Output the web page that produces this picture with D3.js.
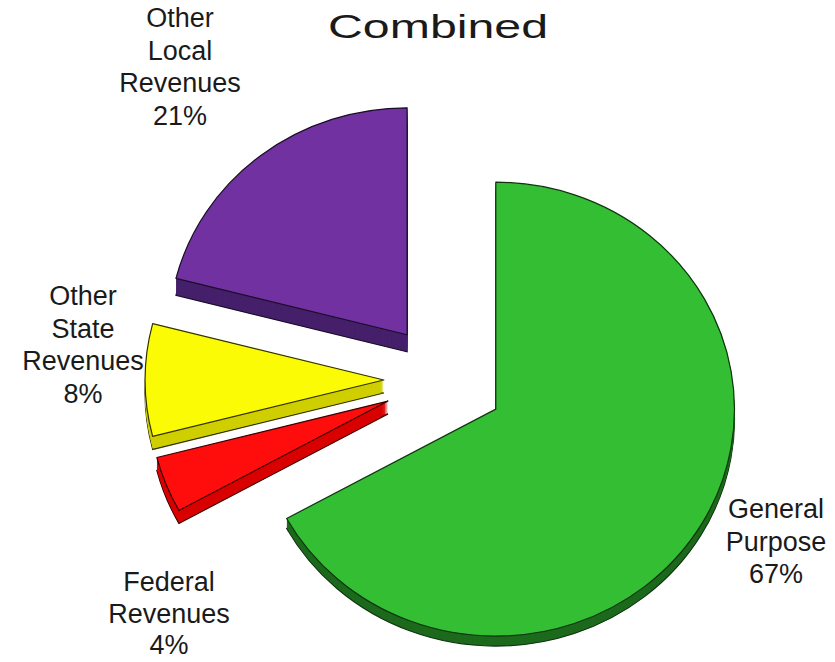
<!DOCTYPE html>
<html>
<head>
<meta charset="utf-8">
<script src="https://cdn.jsdelivr.net/npm/d3@7"></script>
<style>
    body { margin: 0; background: #fff; }
    text { font-family: "Liberation Sans", Arial, sans-serif; fill: #1a1a1a; }
</style>
</head>
<body>
<svg id="chart"></svg>
<script>
// data
const categories = ["General Purpose", "Federal Revenues", "Other State Revenues", "Other Local Revenues"]
const shares = [67, 4, 8, 21]
const labelLines = [
    ["General", "Purpose", "67%"],
    ["Federal", "Revenues", "4%"],
    ["Other", "State", "Revenues", "8%"],
    ["Other", "Local", "Revenues", "21%"]
]
const title = "Combined"

const width = 835
const height = 662

// look of each slice: top face, extruded side, side depth in px
const sliceStyle = {
    "General Purpose": { top: "#33be33", side: "#1d6a1d", stroke: "#0f330f", depth: 10 },
    "Federal Revenues": { top: "#ff0d0d", side: "#d90000", stroke: "#3a0000", depth: 13 },
    "Other State Revenues": { top: "#fbfb05", side: "#cfcf00", stroke: "#333300", depth: 13 },
    "Other Local Revenues": { top: "#7131a1", side: "#46206b", stroke: "#1a0d28", depth: 17 }
}

// where each label block sits: centre x and first baseline
const labelPos = {
    "General Purpose": [776, 518],
    "Federal Revenues": [169, 591],
    "Other State Revenues": [83, 305],
    "Other Local Revenues": [180, 27]
}

const center = { x: 444, y: 380 }
const radius = 234
const squash = { x: 1.02, y: 0.97 }
const explode = 59
const lineStep = 32.5

const svg = d3.select("#chart").attr("width", width).attr("height", height)

const pie = d3.pie().sort(null).value((d) => d)
const arcs = pie(shares)

const arc = d3.arc().innerRadius(0).outerRadius(radius)

const slices = svg.append("g").attr("id", "slices")

arcs.forEach((a, i) => {
    const style = sliceStyle[categories[i]]
    const mid = (a.startAngle + a.endAngle) / 2
    const ox = center.x + explode * squash.x * Math.sin(mid)
    const oy = center.y - explode * squash.y * Math.cos(mid)

    const g = slices.append("g").attr("class", "slice")

    // side: stacked copies pushed down, deepest one outlined
    for (let k = style.depth; k >= 1; k--) {
        g.append("path")
            .attr("d", arc(a))
            .attr("transform", `translate(${ox},${oy + k}) scale(${squash.x},${squash.y})`)
            .attr("fill", style.side)
            .attr("stroke", k === style.depth ? style.stroke : "none")
            .attr("stroke-width", 1.2)
            .attr("vector-effect", "non-scaling-stroke")
    }

    g.append("path")
        .attr("d", arc(a))
        .attr("transform", `translate(${ox},${oy}) scale(${squash.x},${squash.y})`)
        .attr("fill", style.top)
        .attr("stroke", style.stroke)
        .attr("stroke-width", 1.2)
        .attr("stroke-linejoin", "round")
        .attr("vector-effect", "non-scaling-stroke")
})

// labels
const labels = svg.append("g").attr("id", "labels")
categories.forEach((c, i) => {
    const [x, y] = labelPos[c]
    const t = labels.append("text")
        .attr("text-anchor", "middle")
        .attr("font-size", 27)
    const step = c === "Federal Revenues" ? 31.5 : lineStep
    labelLines[i].forEach((line, j) => {
        t.append("tspan")
            .attr("x", x)
            .attr("y", y + j * step)
            .text(line)
    })
})

svg.append("text")
    .attr("x", 438)
    .attr("y", 38)
    .attr("text-anchor", "middle")
    .attr("font-size", 34)
    .attr("textLength", 220)
    .attr("lengthAdjust", "spacingAndGlyphs")
    .text(title)
</script>
</body>
</html>
